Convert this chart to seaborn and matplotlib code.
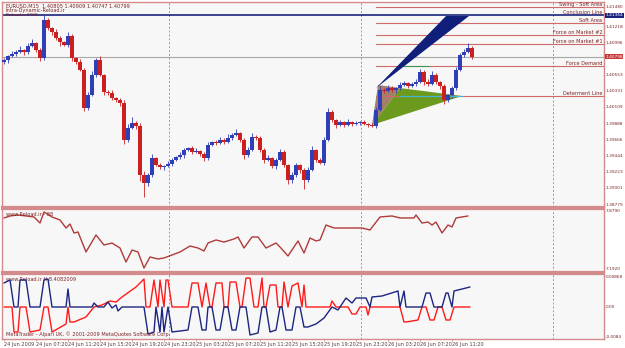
import matplotlib
matplotlib.use("Agg")
import matplotlib.pyplot as plt
import matplotlib.transforms as mtrans
from matplotlib.patches import Polygon
import numpy as np
import pandas as pd
import seaborn as sns

# ---------------- data ----------------
symbol_header = "EURUSD,M15  1.40805 1.40909 1.40747 1.40799"
first_open = 1.40725
closes = [1.40752, 1.40807, 1.40834, 1.40862, 1.40889, 1.40862, 1.40944, 1.40985, 1.40889, 1.40779,
          1.41300, 1.41190, 1.41136, 1.41053, 1.40999, 1.40958, 1.41081, 1.40779, 1.40725, 1.40615,
          1.40094, 1.40273, 1.40547, 1.40752, 1.40547, 1.40314, 1.40300, 1.40231, 1.40204, 1.40163,
          1.39656, 1.39820, 1.39889, 1.39848, 1.39177, 1.39067, 1.39177, 1.39409, 1.39314, 1.39286,
          1.39300, 1.39327, 1.39382, 1.39423, 1.39451, 1.39519, 1.39546, 1.39492, 1.39500, 1.39464,
          1.39409, 1.39588, 1.39629, 1.39615, 1.39656, 1.39629, 1.39683, 1.39725, 1.39752, 1.39656,
          1.39451, 1.39519, 1.39697, 1.39690, 1.39519, 1.39382, 1.39409, 1.39300, 1.39382, 1.39492,
          1.39314, 1.39108, 1.39177, 1.39314, 1.39245, 1.39108, 1.39245, 1.39519, 1.39382, 1.39341,
          1.39656, 1.40040, 1.39930, 1.39862, 1.39903, 1.39862, 1.39903, 1.39875, 1.39889, 1.39903,
          1.39875, 1.39862, 1.39848, 1.40067, 1.40341, 1.40330, 1.40368, 1.40341, 1.40368, 1.40410,
          1.40437, 1.40396, 1.40423, 1.40451, 1.40588, 1.40451, 1.40423, 1.40547, 1.40451, 1.40396,
          1.40204, 1.40273, 1.40368, 1.40615, 1.40821, 1.40862, 1.40916, 1.40798]
upper_wick = [0.0003, 0.0002, 0.0004, 0.0003, 0.0005, 0.0002, 0.0004, 0.0006, 0.0002, 0.0003,
              0.0007, 0.0003, 0.0002, 0.0004, 0.0003, 0.0002, 0.0005, 0.0003, 0.0002, 0.0004,
              0.0003, 0.0004, 0.0005, 0.0003, 0.0006, 0.0002, 0.0003, 0.0004, 0.0002, 0.0003,
              0.0004, 0.0005, 0.0008, 0.0003, 0.0004, 0.0006, 0.0003, 0.0005, 0.0002, 0.0003,
              0.0002, 0.0004, 0.0003, 0.0002, 0.0004, 0.0003, 0.0002, 0.0003, 0.0004, 0.0002,
              0.0003, 0.0004, 0.0002, 0.0003, 0.0004, 0.0003, 0.0005, 0.0003, 0.0006, 0.0002,
              0.0003, 0.0004, 0.0005, 0.0003, 0.0002, 0.0003, 0.0004, 0.0002, 0.0003, 0.0004,
              0.0003, 0.0002, 0.0004, 0.0003, 0.0002, 0.0003, 0.0004, 0.0005, 0.0002, 0.0003,
              0.0004, 0.0006, 0.0003, 0.0002, 0.0003, 0.0002, 0.0004, 0.0002, 0.0003, 0.0002,
              0.0003, 0.0002, 0.0003, 0.0004, 0.0005, 0.0003, 0.0004, 0.0003, 0.0002, 0.0004,
              0.0003, 0.0002, 0.0003, 0.0004, 0.0004, 0.0003, 0.0004, 0.0005, 0.0003, 0.0002,
              0.0003, 0.0002, 0.0003, 0.0004, 0.0003, 0.0004, 0.0007, 0.0003]
lower_wick = [0.0003, 0.0004, 0.0002, 0.0003, 0.0002, 0.0004, 0.0003, 0.0002, 0.0003, 0.0004,
              0.0003, 0.0002, 0.0004, 0.0003, 0.0005, 0.0002, 0.0003, 0.0004, 0.0003, 0.0002,
              0.0004, 0.0003, 0.0002, 0.0003, 0.0002, 0.0004, 0.0003, 0.0002, 0.0003, 0.0004,
              0.0006, 0.0003, 0.0002, 0.0004, 0.0008, 0.0019, 0.0004, 0.0003, 0.0002, 0.0003,
              0.0004, 0.0002, 0.0003, 0.0002, 0.0003, 0.0004, 0.0002, 0.0003, 0.0002, 0.0003,
              0.0004, 0.0003, 0.0002, 0.0003, 0.0002, 0.0003, 0.0002, 0.0003, 0.0002, 0.0003,
              0.0005, 0.0003, 0.0002, 0.0004, 0.0003, 0.0004, 0.0002, 0.0003, 0.0004, 0.0002,
              0.0003, 0.0006, 0.0004, 0.0003, 0.0004, 0.0012, 0.0003, 0.0002, 0.0003, 0.0002,
              0.0003, 0.0002, 0.0003, 0.0004, 0.0002, 0.0003, 0.0002, 0.0003, 0.0002, 0.0003,
              0.0002, 0.0003, 0.0002, 0.0003, 0.0002, 0.0003, 0.0002, 0.0003, 0.0004, 0.0003,
              0.0002, 0.0003, 0.0002, 0.0003, 0.0002, 0.0004, 0.0003, 0.0002, 0.0003, 0.0004,
              0.0005, 0.0003, 0.0004, 0.0003, 0.0002, 0.0003, 0.0002, 0.0003]

price_ticks = [1.41218, 1.40996, 1.40553, 1.40331, 1.40109, 1.39888, 1.39666,
               1.39444, 1.39223, 1.39001, 1.38779]
level_names = ["Swing - Soft Area", "Soft Area", "Force on Market #2",
               "Force on Market #1", "Force Demand", "Determent Line"]
level_prices = [1.41480, 1.41260, 1.41095, 1.40970, 1.40670, 1.40259]
conclusion_price = 1.41364
current_price = 1.40798

# triangle pattern vertices (bar index, price)
wedge_bars = [186.0, 221.0, 232.5]
wedge_prices = [1.40368, 1.41355, 1.41355]
brown_bars = [184.0, 187.0, 198.0]
brown_prices = [1.39862, 1.40410, 1.40368]
green_bars = [184.0, 198.0, 229.0]
green_prices = [1.39862, 1.40368, 1.40259]

# indicator 1
ind1_bars = [0, 3, 7, 11, 15, 18, 20, 24, 28, 31, 33, 35, 37, 41, 46, 50, 54, 58, 61, 64,
             67, 70, 73, 77, 80, 84, 88, 93, 97, 100, 102, 106, 110, 115, 117, 120, 124, 127,
             131, 136, 138, 142, 147, 150, 153, 156, 158, 161, 165, 170, 174, 179, 183, 188,
             194, 198, 205, 206, 209, 212, 214, 216, 219, 222, 224, 226, 229, 232]
ind1_vals = [7.795, 7.819, 7.831, 7.819, 7.807, 7.734, 7.867, 7.807, 7.771, 7.674, 7.722,
             7.614, 7.626, 7.385, 7.590, 7.469, 7.493, 7.433, 7.264, 7.409, 7.385, 7.192,
             7.325, 7.301, 7.313, 7.349, 7.385, 7.457, 7.433, 7.397, 7.493, 7.530, 7.505,
             7.542, 7.566, 7.433, 7.566, 7.566, 7.433, 7.493, 7.445, 7.337, 7.518, 7.373,
             7.554, 7.518, 7.530, 7.710, 7.674, 7.674, 7.674, 7.674, 7.650, 7.807, 7.819,
             7.795, 7.795, 7.831, 7.734, 7.746, 7.710, 7.746, 7.614, 7.710, 7.686, 7.795,
             7.807, 7.819]

# indicator 2
blue_bars = [0, 3, 5, 7, 8, 11, 13, 18, 20, 22, 24, 31, 32, 33, 44, 45, 47, 50, 52, 54, 56,
             57, 59, 70, 72, 75, 76, 78, 79, 80, 82, 84, 92, 94, 97, 99, 101, 102, 104, 106,
             108, 110, 112, 114, 116, 118, 121, 123, 127, 129, 131, 133, 136, 138, 139, 141,
             144, 146, 148, 150, 152, 156, 160, 164, 167, 171, 174, 176, 179, 181, 183, 184,
             189, 197, 198, 200, 201, 209, 211, 213, 215, 219, 221, 222, 224, 225, 233]
blue_vals = [0.00672, 0.00756, 0, 0, 0.00756, 0.00756, 0, 0, 0.00756, 0.00784, 0, 0,
             0.00504, 0, 0, 0.00112, 0, 0, 0.0014, -0.00028, 0.00056, -0.00112, 0, 0,
             -0.00756, -0.007, 0, -0.007, 0, -0.007, 0, -0.007, -0.00644, 0, 0, -0.00644,
             -0.00644, 0, 0, -0.00644, -0.00644, 0, 0, -0.00644, -0.00644, 0, 0, -0.00784,
             -0.00728, 0, 0, -0.007, -0.00644, 0, 0, -0.00644, -0.00644, 0, 0, -0.0056,
             -0.0056, -0.00476, -0.00308, 0, -0.00084, 0.00252, 0.00112, 0.00252, 0.00252,
             0.00252, 0, 0.0028, 0.00308, 0.00448, 0, 0.00448, 0, 0, 0.00392, 0.00392, 0,
             0, 0.00392, 0.00392, 0, 0.00448, 0.0056]
red_bars = [0, 4, 5, 7, 8, 11, 13, 18, 20, 22, 24, 31, 32, 33, 35, 41, 45, 49, 53, 56, 59,
            66, 70, 71, 73, 75, 77, 78, 80, 81, 82, 84, 92, 94, 97, 99, 101, 103, 104, 106,
            109, 110, 112, 113, 116, 118, 119, 121, 123, 125, 127, 129, 130, 131, 133, 136,
            137, 139, 140, 142, 144, 147, 149, 150, 151, 163, 164, 166, 172, 174, 176, 178,
            181, 182, 183, 198, 200, 201, 207, 209, 211, 213, 215, 217, 219, 221, 223, 225, 233]
red_vals = [0, 0, -0.007, -0.007, 0, 0, -0.007, -0.00644, 0, 0, -0.007, -0.00476, 0,
            -0.0042, -0.0042, -0.0028, 0, 0.00056, 0.00168, 0.0014, 0.0028, 0.0056, 0.00784,
            0, 0, 0.00756, 0, 0.00756, 0, 0.00756, 0.00756, 0, 0, 0.00672, 0.00672, 0,
            0.00672, 0, 0, 0.00672, 0.00672, 0, 0, 0.007, 0.007, 0, 0, 0.00812, 0.00812, 0,
            0, 0.00812, 0, 0, 0.00616, 0.00616, 0, 0, 0.007, 0, 0.00588, 0.00672, 0, 0.00616,
            0, 0, 0.00168, 0, 0, -0.00196, -0.00196, 0, 0, -0.00224, 0, 0, -0.0042, -0.0042,
            -0.00364, 0, 0, -0.00364, -0.00364, 0, 0, -0.00364, -0.00364, 0, 0]

time_labels = ["24 Jun 2009", "24 Jun 07:20", "24 Jun 11:20", "24 Jun 15:20", "24 Jun 19:20",
               "24 Jun 23:20", "25 Jun 03:20", "25 Jun 07:20", "25 Jun 11:20", "25 Jun 15:20",
               "25 Jun 19:20", "25 Jun 23:20", "26 Jun 03:20", "26 Jun 07:20", "26 Jun 11:20"]
time_label_bars = [0, 16, 32, 48, 64, 80, 96, 112, 128, 144, 160, 176, 192, 208, 224]
day_separators = [82.67, 178.67, 274.67]

# ---------------- style ----------------
sns.set_theme(style="white")
plt.rcParams['font.family'] = ['DejaVu Sans']

W, H = 625, 348
fig = plt.figure(figsize=(6.25, 3.48), dpi=100)
fig.patch.set_facecolor('#ffffff')

BORDER = '#d38b8b'
TXT = '#7b2323'
BG = '#f7f7f7'
FS = 3.6
FSY = 3.1
RIGHT = 604


def ax_at(x0, y0, x1, y1):
    return fig.add_axes([x0 / W, 1 - y1 / H, (x1 - x0) / W, (y1 - y0) / H])


ax1 = ax_at(2, 2, RIGHT, 207)
ax2 = ax_at(2, 209, RIGHT, 272)
ax3 = ax_at(2, 274, RIGHT, 339)
XMIN, XMAX = -1, 300

for ax in (ax1, ax2, ax3):
    ax.set_facecolor(BG)
    ax.set_xlim(XMIN, XMAX)
    for s in ax.spines.values():
        s.set_color(BORDER)
        s.set_linewidth(1.0)
    ax.yaxis.tick_right()
    ax.tick_params(axis='y', direction='out', length=1.0, width=0.6, color=BORDER,
                   labelsize=FSY, labelcolor=TXT, pad=0.4)
    ax.tick_params(axis='x', bottom=False, labelbottom=False)
    for d in day_separators:
        ax.axvline(d, color='#d08080', lw=0.7, ls=(0, (2, 2)), zorder=1)
    ax.grid(False)

for ax in (ax1, ax2):
    ax.spines['bottom'].set_linewidth(1.6)
for ax in (ax2, ax3):
    ax.spines['top'].set_linewidth(1.6)

# ---------------- price panel ----------------
ax1.set_ylim(1.38738, 1.41547)
opens = [first_open] + closes[:-1]
df = pd.DataFrame({"bar": [2 * i for i in range(len(closes))], "open": opens, "close": closes,
                   "up": upper_wick, "dn": lower_wick})
df["high"] = df[["open", "close"]].max(axis=1) + df["up"]
df["low"] = df[["open", "close"]].min(axis=1) - df["dn"]
bull = df["close"] >= df["open"]
cols = np.where(bull, '#2f3fb8', '#cc2020')
ax1.vlines(df["bar"], df["low"], df["high"], colors=cols, lw=0.6, zorder=3)
ax1.bar(df["bar"], (df["close"] - df["open"]).abs().clip(lower=0.00004),
        bottom=df[["open", "close"]].min(axis=1), width=1.6, color=cols, zorder=4,
        linewidth=0)

# triangle pattern
ax1.add_patch(Polygon(list(zip(brown_bars, brown_prices)), closed=True,
                      facecolor='#a07860', edgecolor='none', alpha=0.95, zorder=2))
ax1.add_patch(Polygon(list(zip(green_bars, green_prices)), closed=True,
                      facecolor='#6b9a1e', edgecolor='none', zorder=2))
ax1.add_patch(Polygon(list(zip(wedge_bars, wedge_prices)), closed=True,
                      facecolor='#10207a', edgecolor='none', zorder=5))

bt = mtrans.blended_transform_factory(ax1.transAxes, ax1.transData)
for name, p in zip(level_names, level_prices):
    ax1.plot([186, XMAX], [p, p], color='#d06a6a', lw=0.8, zorder=2)
    ax1.text(0.997, p, name, transform=bt, ha='right', va='bottom', fontsize=FS,
             color=TXT, zorder=6)
ax1.plot([198, 229], [level_prices[5]] * 2, color='#40b8d8', lw=0.8, zorder=3)
ax1.plot([200, 212], [level_prices[4]] * 2, color='#3a9a5a', lw=0.8, zorder=3)
ax1.axhline(conclusion_price, color='#1a237e', lw=1.2, zorder=2)
ax1.text(0.997, conclusion_price, "Conclusion Line", transform=bt, ha='right',
         va='bottom', fontsize=FS, color=TXT, zorder=6)
ax1.axhline(current_price, color='#a8a8a8', lw=0.8, zorder=2)

ax1.set_yticks(price_ticks)
ax1.set_yticklabels([f"{v:.5f}" for v in price_ticks])
ax1.text(1.0025, 1.41480, "1.41480", transform=bt, fontsize=FSY, color=TXT, va='center', ha='left')
ax1.text(1.0025, conclusion_price, "1.41364", transform=bt, fontsize=FSY, color='white',
         va='center', ha='left', bbox=dict(boxstyle='square,pad=0.1', fc='#1a237e', ec='none'))
ax1.text(1.0025, current_price, "1.40798", transform=bt, fontsize=FSY, color='white',
         va='center', ha='left', bbox=dict(boxstyle='square,pad=0.1', fc='#c83838', ec='none'))

ax1.text(0.006, 0.993, symbol_header, transform=ax1.transAxes, fontsize=FS, color=TXT,
         va='top', ha='left')
ax1.text(0.006, 0.97, "Intra-Dynamic-Reload.ir", transform=ax1.transAxes, fontsize=FS,
         color=TXT, va='top', ha='left')
ax1.text(0.006, 0.948, "Reload.ir 2009", transform=ax1.transAxes, fontsize=FS - 0.4,
         color=TXT, va='top', ha='left')

# ---------------- indicator 1 ----------------
ax2.set_ylim(7.144, 7.903)
sns.lineplot(x=ind1_bars, y=ind1_vals, ax=ax2, color='#b03a3a', lw=1.0,
             estimator=None, sort=False, zorder=3)
ax2.set_yticks([7.8790, 7.1920])
ax2.set_yticklabels(["7.8790", "7.1920"])
ax2.text(0.006, 0.96, "www.Reload.ir - 88", transform=ax2.transAxes, fontsize=FS,
         color=TXT, va='top', ha='left')

# ---------------- indicator 2 ----------------
ax3.set_ylim(-0.00896, 0.00924)
sns.lineplot(x=red_bars, y=red_vals, ax=ax3, color='#ff1a1a', lw=1.0,
             estimator=None, sort=False, zorder=3)
sns.lineplot(x=blue_bars, y=blue_vals, ax=ax3, color='#1c2580', lw=1.0,
             estimator=None, sort=False, zorder=4)
ax3.set_yticks([0.00868, 0.0, -0.0084])
ax3.set_yticklabels(["0.00868", "0.00", "-0.0084"])
ax3.text(0.006, 0.96, "www.Reload.ir H 8.4082009", transform=ax3.transAxes, fontsize=FS,
         color=TXT, va='top', ha='left')
ax3.text(0.006, 0.03, "MetaTrader - Alpari UK, \u00a9 2001-2009 MetaQuotes Software Corp.",
         transform=ax3.transAxes, fontsize=FS, color=TXT, va='bottom', ha='left', zorder=6)

ax3.tick_params(axis='x', bottom=True, labelbottom=True, direction='out', length=1.5,
                width=0.6, color=BORDER, labelsize=FS, labelcolor='#5a3a3a', pad=0.5)
ax3.set_xticks(time_label_bars)
ax3.set_xticklabels(time_labels, ha='left')
for ax in (ax1, ax2, ax3):
    ax.set_xlabel("")
    ax.set_ylabel("")

fig.savefig("out.png", dpi=100, facecolor=fig.get_facecolor())
